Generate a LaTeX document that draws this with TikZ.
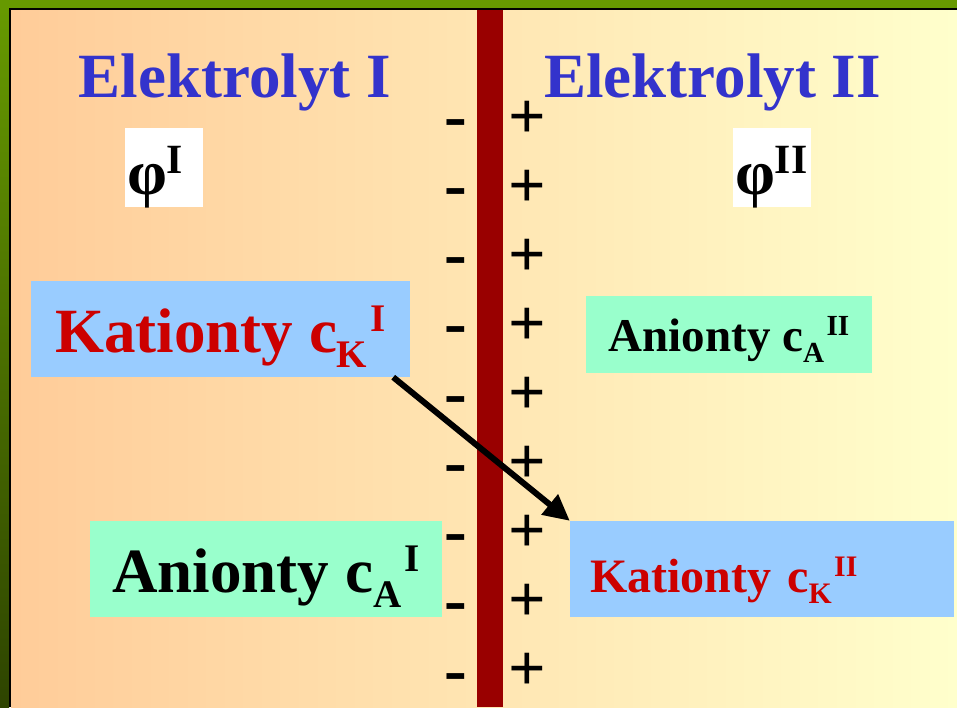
\documentclass[tikz,border=0pt]{standalone}
\usepackage{fontspec}
\setmainfont{Liberation Serif}
\usepackage{tikz}
\usetikzlibrary{arrows.meta}
\usetikzlibrary{positioning}
\usepackage{xcolor}
\definecolor{peach}{HTML}{FFCC99}
\definecolor{cream}{HTML}{FFFFCC}
\definecolor{leafgreen}{HTML}{669900}
\definecolor{darkleaf}{HTML}{2E4400}
\definecolor{membrane}{HTML}{990000}
\definecolor{titleblue}{HTML}{3333CC}
\definecolor{ionred}{HTML}{CC0000}
\definecolor{skyblue}{HTML}{99CCFF}
\definecolor{mint}{HTML}{99FFCC}
\newcommand{\conc}[2]{c\raisebox{-0.24em}{\scalebox{0.62}{#1}}\kern0.05em\raisebox{0.32em}{\scalebox{0.62}{#2}}}
\newcommand{\phisup}[1]{φ\raisebox{0.32em}{\scalebox{0.65}{#1}}}
\tikzset{
    title/.style={
        font=\fontsize{63}{70}\selectfont\bfseries,
        text=titleblue,
        anchor=base,
        inner sep=0pt
    },
    phibox/.style={
        fill=white,
        minimum height=79pt,
        text width=74pt,
        inner xsep=2pt,
        inner ysep=0pt,
        align=left,
        text height=53pt,
        text depth=0pt,
        font=\fontsize{64}{70}\selectfont\bfseries
    },
    ionbox/.style={
        inner sep=0pt,
        minimum height=96pt,
        text height=46pt,
        text depth=0pt,
        font=\fontsize{63}{70}\selectfont\bfseries
    },
    minus/.style={anchor=base, inner sep=0pt, font=\fontsize{68}{70}\selectfont\bfseries},
    plus/.style={anchor=base, inner sep=0pt, font=\fontsize{66}{70}\selectfont\bfseries},
    flow/.style={
        draw,
        line width=6pt,
        -{Triangle[length=26pt, width=25pt]}
    }
}

\begin{document}
\begin{tikzpicture}[x=1pt, y=-1pt]
    \useasboundingbox (0,0) rectangle (957,707);
    % Background and frame
    \shade[left color=peach, right color=cream] (11,10) rectangle (957,707);
    \fill[leafgreen] (0,0) rectangle (957,8);
    \shade[top color=leafgreen, bottom color=darkleaf] (0,8) rectangle (9,707);
    \fill[black] (9,8) rectangle (957,10);
    \fill[black] (9,8) rectangle (11,707);

    % Membrane
    \fill[membrane] (477,10) rectangle (503,707);
    \foreach \i in {0,...,8} {
        \node[minus] (minus\i) at (455.5,122+16+69.25*\i) {-};
        \node[plus] (plus\i) at (527.5,117+21+69*\i) {+};
    }

    % Titles
    \node[title] (titleI) at (235,97) {Elektrolyt I};
    \node[title] (titleII) at (712.5,97) {Elektrolyt II};
    \node[phibox] (phiI) at (164,167.5) {\phisup{I}};
    \node[phibox] (phiII) at (772,167.5) {\phisup{II}};

    % Ions
    \node[ionbox, fill=skyblue, text=ionred, minimum width=379pt] (katI) at (220.5,329) {Kationty \conc{K}{I}};
    \node[ionbox, fill=mint, minimum width=352pt] (anI) at (266,569) {Anionty \conc{A}{I}};
    \node[ionbox, fill=mint, minimum width=286pt, minimum height=77pt, text height=33pt,
          font=\fontsize{47}{52}\selectfont\bfseries] (anII) at (729,334.5) {Anionty \conc{A}{II}};
    \node[ionbox, fill=skyblue, text=ionred, text width=344pt, inner xsep=20pt, align=left,
          font=\fontsize{48}{52}\selectfont\bfseries] (katII) at (762,569) {Kationty \conc{K}{II}};

    \draw[flow] ([xshift=-17pt]katI.south east) -- (katII.north west);
\end{tikzpicture}
\end{document}
